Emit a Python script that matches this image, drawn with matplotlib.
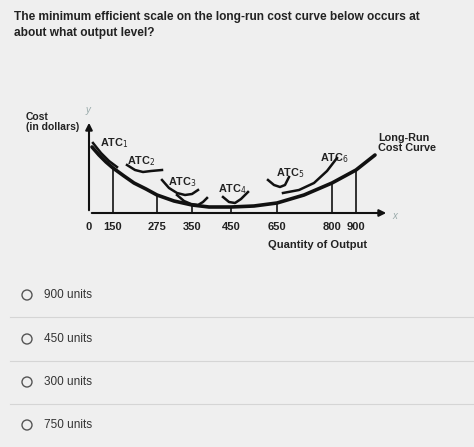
import matplotlib.pyplot as plt

# tick labels and where they sit along the (non-proportional) drawn axis
tick_labels = ['0', '150', '275', '350', '450', '650', '800', '900']
tick_pos = [0, 24, 68, 103, 142, 188, 243, 267]
line_tops = [None, 45, 18, 8, 6, 10, 30, 43]

# long-run cost curve (position, height)
lrac_x = [3, 10, 17, 24, 35, 45, 57, 68, 85, 103, 120, 142, 165, 188, 215, 243, 267, 286]
lrac_y = [66, 58, 51, 45, 37, 30, 24, 18, 12, 8, 6, 6, 7, 10, 18, 30, 43, 58]

# short-run ATC arcs
atc_x = [
    [4, 12, 20, 28],
    [38, 46, 54, 62, 73],
    [73, 80, 88, 96, 103, 109],
    [88, 95, 102, 109, 114, 118],
    [134, 140, 146, 152, 159],
    [179, 185, 191, 196, 200],
    [194, 210, 225, 238, 248],
]
atc_y = [
    [70, 60, 52, 46],
    [48, 43, 41, 42, 43],
    [33, 25, 20, 18, 19, 23],
    [18, 12, 9, 8, 11, 15],
    [16, 11, 10, 14, 21],
    [33, 28, 26, 28, 36],
    [20, 23, 30, 42, 55],
]
atc_names = ['ATC$_1$', 'ATC$_2$', 'ATC$_3$', 'ATC$_4$', 'ATC$_5$', 'ATC$_6$']
atc_label_xy = [(100, 143), (127, 161), (168, 182), (218, 189), (276, 173), (320, 158)]

options = ['900 units', '450 units', '300 units', '750 units']
option_y = [295, 339, 382, 425]

plt.rcParams['font.family'] = ['Liberation Sans', 'DejaVu Sans']
fig = plt.figure(figsize=(4.74, 4.47), dpi=100)
fig.patch.set_facecolor('#efefef')

# page layer in pixel coordinates
page = fig.add_axes([0, 0, 1, 1])
page.set_xlim(0, 474)
page.set_ylim(447, 0)
page.axis('off')
page.text(14, 17, 'The minimum efficient scale on the long-run cost curve below occurs at',
          fontsize=8.6, fontweight='bold', color='#222222', va='center')
page.text(14, 33, 'about what output level?', fontsize=8.6, fontweight='bold',
          color='#222222', va='center')
page.text(26, 122, 'Cost\n(in dollars)', fontsize=7.5, fontweight='bold', va='center',
          linespacing=0.95, color='#222222')
page.text(86, 110, 'y', fontsize=7, style='italic', color='#9aa', va='center')
page.text(392, 216, 'x', fontsize=7, style='italic', color='#9aa', va='center')
page.text(318, 245, 'Quantity of Output', fontsize=8, fontweight='bold', ha='center',
          va='center', color='#222222')
page.text(378, 143, 'Long-Run\nCost Curve', fontsize=7.8, fontweight='bold', va='center',
          linespacing=0.95, color='#222222')
for name, (lx, ly) in zip(atc_names, atc_label_xy):
    page.text(lx, ly, name, fontsize=7.8, fontweight='bold', va='center', color='#222222')
for lab, p in zip(tick_labels, tick_pos):
    page.text(89 + p, 227, lab, fontsize=8, fontweight='bold', ha='center', va='center',
              color='#222222')

for i, (opt, oy) in enumerate(zip(options, option_y)):
    page.add_patch(plt.Circle((27, oy), 5, fill=False, ec='#555555', lw=1))
    page.text(44, oy, opt, fontsize=8.5, va='center', color='#333333')
    if i < len(options) - 1:
        page.plot([10, 474], [oy + 22, oy + 22], color='#d5d5d5', lw=0.8)

# chart layer: origin at pixel (89, 213)
ax = fig.add_axes([89 / 474, 1 - 213 / 447, 300 / 474, 93 / 447])
ax.set_xlim(0, 300)
ax.set_ylim(0, 93)
ax.axis('off')
ax.annotate('', xy=(0, 93), xytext=(0, 0),
            arrowprops=dict(arrowstyle='-|>', color='#111111', lw=1.5))
ax.annotate('', xy=(300, 0), xytext=(0, 0),
            arrowprops=dict(arrowstyle='-|>', color='#111111', lw=1.5))
for p, top in zip(tick_pos, line_tops):
    if top is not None:
        ax.plot([p, p], [0, top], color='#111111', lw=1.2)
ax.plot(lrac_x, lrac_y, color='#111111', lw=2.6, solid_capstyle='round')
for xs, ys in zip(atc_x, atc_y):
    ax.plot(xs, ys, color='#111111', lw=1.8, solid_joinstyle='round')

fig.savefig('out.png', dpi=100, facecolor=fig.get_facecolor())
